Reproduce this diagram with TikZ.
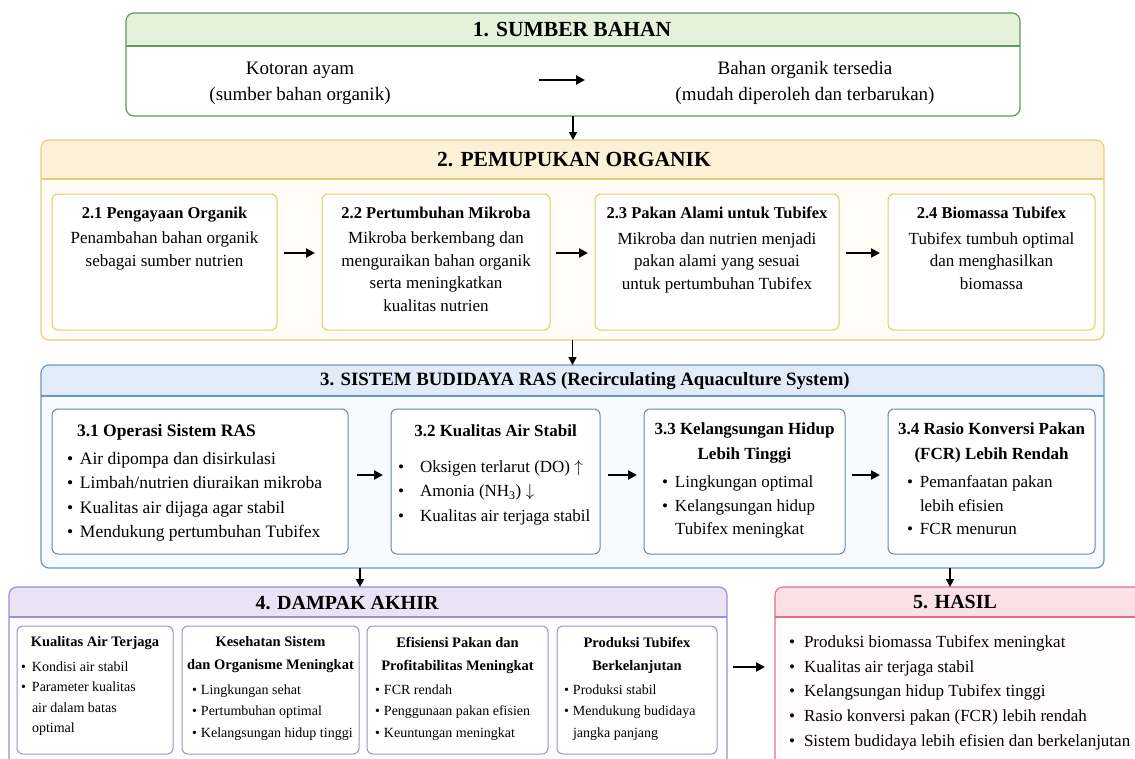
\documentclass[tikz,border=0pt]{standalone}
\usepackage{fontspec}
\setmainfont{Liberation Serif}
\usetikzlibrary{arrows.meta,fit}
\definecolor{gB}{HTML}{5E9A5E}
\definecolor{gH}{HTML}{E4F2DC}
\definecolor{gBg}{HTML}{FFFFFF}
\definecolor{yB}{HTML}{EDCB7A}
\definecolor{yH}{HTML}{FCF1D6}
\definecolor{yBg}{HTML}{FFFDF6}
\definecolor{yS}{HTML}{EAC56E}
\definecolor{bB}{HTML}{6C95C2}
\definecolor{bH}{HTML}{E1ECF8}
\definecolor{bBg}{HTML}{F8FBFE}
\definecolor{bS}{HTML}{6089B6}
\definecolor{pB}{HTML}{9C8FCB}
\definecolor{pH}{HTML}{EAE3F6}
\definecolor{pBg}{HTML}{FCFBFF}
\definecolor{pS}{HTML}{9C94BE}
\definecolor{rB}{HTML}{E0708A}
\definecolor{rH}{HTML}{FBE1E7}
\definecolor{rBg}{HTML}{FFFDFD}
\newcommand{\fs}[2]{\fontsize{#1}{#2}\selectfont}
\newcommand{\bul}[1]{\makebox[#1][l]{\textbullet}}
% name, x1, y1, x2, y2, header bottom, colour prefix
\newcommand{\secbox}[7]{%
  \fill[#7Bg, rounded corners=8pt] (#2,#3) rectangle (#4,#5);
  \begin{scope}
    \clip[rounded corners=8pt] (#2,#3) rectangle (#4,#5);
    \fill[#7H] (#2,#3) rectangle (#4,#6);
  \end{scope}
  \draw[#7B, line width=1.2pt] (#2,#6) -- (#4,#6);
  \node[draw=#7B, line width=1.2pt, rounded corners=8pt, fit={(#2,#3) (#4,#5)}] (#1) {};
}
\newcommand{\subbox}[6]{%
  \node[draw=#6S, fill=white, line width=1pt, rounded corners=6pt, fit={(#2,#3) (#4,#5)}] (#1) {};
}
\tikzset{
  harr/.style={line width=2.2pt, -{Triangle[length=9pt,width=9pt]}},
  varr/.style={line width=1.6pt, -{Triangle[length=8pt,width=8pt]}},
  sectitle/.style={font=\fs{21.5}{26}\bfseries},
  btxt/.style={font=\fs{17}{22.5}, align=center, anchor=north},
  ftitle/.style={font=\fs{14.5}{23}\bfseries, align=center},
}
\begin{document}
\begin{tikzpicture}[x=1pt,y=-1pt, every node/.style={inner sep=0pt, outer sep=0pt}]
\useasboundingbox (0,0) rectangle (1135,758);
\clip (0,0) rectangle (1135,758);
\fill[white] (0,0) rectangle (1135,758);

% ---------- 1 ----------
\secbox{s1}{126}{13}{1020}{116}{46}{g}
\node[sectitle] (t1) at (572,30) {1. SUMBER BAHAN};
\node[font=\fs{19}{26}, align=center] (k1) at (300,83) {Kotoran ayam\\(sumber bahan organik)};
\node[font=\fs{19}{26}, align=center] (k2) at (805,83) {Bahan organik tersedia\\(mudah diperoleh dan terbarukan)};
\coordinate (a1s) at (539,80);
\coordinate (a1e) at (585,80);
\draw[harr] (a1s) -- (a1e);

% ---------- 2 ----------
\secbox{s2}{41}{140}{1104}{340}{179}{y}
\node[sectitle] (t2) at (574,160) {2. PEMUPUKAN ORGANIK};
\subbox{b21}{52}{194}{277}{330}{y}
\subbox{b22}{322}{194}{550}{330}{y}
\subbox{b23}{595}{194}{839}{330}{y}
\subbox{b24}{888}{194}{1095}{330}{y}
\node[btxt] (x21) at (164.5,207) {\textbf{\fs{16.5}{22.5}2.1 Pengayaan Organik}\\[3pt]Penambahan bahan organik\\sebagai sumber nutrien};
\node[btxt] (x22) at (436,207) {\textbf{\fs{16.5}{22.5}2.2 Pertumbuhan Mikroba}\\[3pt]Mikroba berkembang dan\\menguraikan bahan organik\\serta meningkatkan\\kualitas nutrien};
\node[btxt] (x23) at (717,207) {\textbf{\fs{16.5}{22.5}2.3 Pakan Alami untuk Tubifex}\\[3pt]Mikroba dan nutrien menjadi\\pakan alami yang sesuai\\untuk pertumbuhan Tubifex};
\node[btxt] (x24) at (991.5,207) {\textbf{\fs{16.5}{22.5}2.4 Biomassa Tubifex}\\[3pt]Tubifex tumbuh optimal\\dan menghasilkan\\biomassa};
\draw[harr, shorten <=7pt, shorten >=7pt] ([yshift=9pt]b21.east) -- ([yshift=9pt]b22.west);
\draw[harr, shorten <=6pt, shorten >=7pt] ([yshift=9pt]b22.east) -- ([yshift=9pt]b23.west);
\draw[harr, shorten <=7pt, shorten >=8pt] ([yshift=9pt]b23.east) -- ([yshift=9pt]b24.west);

% ---------- 3 ----------
\secbox{s3}{41}{365}{1104}{568}{396}{b}
\node[font=\fs{18.8}{24}\bfseries] (t3) at (585,381) {3. SISTEM BUDIDAYA RAS (Recirculating Aquaculture System)};
\subbox{b31}{52}{409}{348}{554}{b}
\subbox{b32}{391}{409}{600}{554}{b}
\subbox{b33}{644}{409}{845}{554}{b}
\subbox{b34}{888}{409}{1095}{554}{b}
\node[anchor=north west, font=\fs{17.5}{24.5}, align=left] (x31) at (67,424)
  {\hspace*{10pt}\textbf{3.1 Operasi Sistem RAS}\\[3.5pt]
   \bul{13pt}Air dipompa dan disirkulasi\\
   \bul{13pt}Limbah/nutrien diuraikan mikroba\\
   \bul{13pt}Kualitas air dijaga agar stabil\\
   \bul{13pt}Mendukung pertumbuhan Tubifex};
\node[font=\fs{17}{24}\bfseries] (x32t) at (495.5,431) {3.2 Kualitas Air Stabil};
\node[anchor=north west, font=\fs{17}{24.5}, align=left] (x32) at (398,460)
  {\bul{22pt}Oksigen terlarut (DO) $\uparrow$\\
   \bul{22pt}Amonia (NH\textsubscript{3}) $\downarrow$\\
   \bul{22pt}Kualitas air terjaga stabil};
\node[font=\fs{17}{25}\bfseries, align=center] (x33t) at (744.5,443) {3.3 Kelangsungan Hidup\\Lebih Tinggi};
\node[anchor=north west, font=\fs{17}{23.5}, align=left] (x33) at (662,476)
  {\bul{13pt}Lingkungan optimal\\
   \bul{13pt}Kelangsungan hidup\\
   \hspace*{13pt}Tubifex meningkat};
\node[font=\fs{17}{25}\bfseries, align=center] (x34t) at (991.5,443) {3.4 Rasio Konversi Pakan\\(FCR) Lebih Rendah};
\node[anchor=north west, font=\fs{17}{23.5}, align=left] (x34) at (907,476)
  {\bul{13pt}Pemanfaatan pakan\\
   \hspace*{13pt}lebih efisien\\
   \bul{13pt}FCR menurun};
\draw[harr, shorten <=9pt, shorten >=8pt] ([yshift=6.5pt]b31.east) -- ([yshift=6.5pt]b32.west);
\draw[harr, shorten <=8pt, shorten >=7pt] ([yshift=6.5pt]b32.east) -- ([yshift=6.5pt]b33.west);
\draw[harr, shorten <=7pt, shorten >=8pt] ([yshift=6.5pt]b33.east) -- ([yshift=6.5pt]b34.west);

% ---------- 4 ----------
\secbox{s4}{9}{587}{727}{790}{617}{p}
\node[font=\fs{20}{24}\bfseries] (t4) at (347,603) {4. DAMPAK AKHIR};
\subbox{b41}{17}{626}{173}{754}{p}
\subbox{b42}{182}{626}{359}{754}{p}
\subbox{b43}{367}{626}{548}{754}{p}
\subbox{b44}{557}{626}{717}{754}{p}
\node[ftitle] (x41t) at (95,643) {Kualitas Air Terjaga};
\node[ftitle] (x42t) at (270.5,655) {Kesehatan Sistem\\dan Organisme Meningkat};
\node[ftitle] (x43t) at (457.5,655) {Efisiensi Pakan dan\\Profitabilitas Meningkat};
\node[ftitle] (x44t) at (637,655) {Produksi Tubifex\\Berkelanjutan};
\node[anchor=north west, font=\fs{14}{20.5}, align=left] (x41) at (21,661.5)
  {\bul{11pt}Kondisi air stabil\\
   \bul{11pt}Parameter kualitas\\
   \hspace*{11pt}air dalam batas\\
   \hspace*{11pt}optimal};
\node[anchor=north west, font=\fs{14}{21.5}, align=left] (x42) at (192,684.5)
  {\bul{9pt}Lingkungan sehat\\
   \bul{9pt}Pertumbuhan optimal\\
   \bul{9pt}Kelangsungan hidup tinggi};
\node[anchor=north west, font=\fs{14}{21.5}, align=left] (x43) at (375,684.5)
  {\bul{9pt}FCR rendah\\
   \bul{9pt}Penggunaan pakan efisien\\
   \bul{9pt}Keuntungan meningkat};
\node[anchor=north west, font=\fs{14}{21.5}, align=left] (x44) at (564,684.5)
  {\bul{9pt}Produksi stabil\\
   \bul{9pt}Mendukung budidaya\\
   \hspace*{9pt}jangka panjang};

% ---------- 5 ----------
\secbox{s5}{775}{587}{1150}{790}{617}{r}
\node[font=\fs{20}{24}\bfseries] (t5) at (955,602) {5. HASIL};
\node[anchor=north west, font=\fs{17}{24.7}, align=left] (x5) at (789,635.5)
  {\bul{15pt}Produksi biomassa Tubifex meningkat\\
   \bul{15pt}Kualitas air terjaga stabil\\
   \bul{15pt}Kelangsungan hidup Tubifex tinggi\\
   \bul{15pt}Rasio konversi pakan (FCR) lebih rendah\\
   \bul{15pt}Sistem budidaya lebih efisien dan berkelanjutan};

% ---------- connectors ----------
\coordinate (c34) at (360,0);
\coordinate (c35) at (950,0);
\draw[varr] (s1.south) -- (s1.south |- s2.north);
\draw[varr] (s2.south) -- (s2.south |- s3.north);
\draw[varr] (s3.south -| c34) -- (s4.north -| c34);
\draw[varr] (s3.south -| c35) -- (s5.north -| c35);
\draw[harr, shorten <=6pt, shorten >=10pt] ([yshift=21.5pt]s4.east) -- ([yshift=21.5pt]s5.west);
\end{tikzpicture}
\end{document}
